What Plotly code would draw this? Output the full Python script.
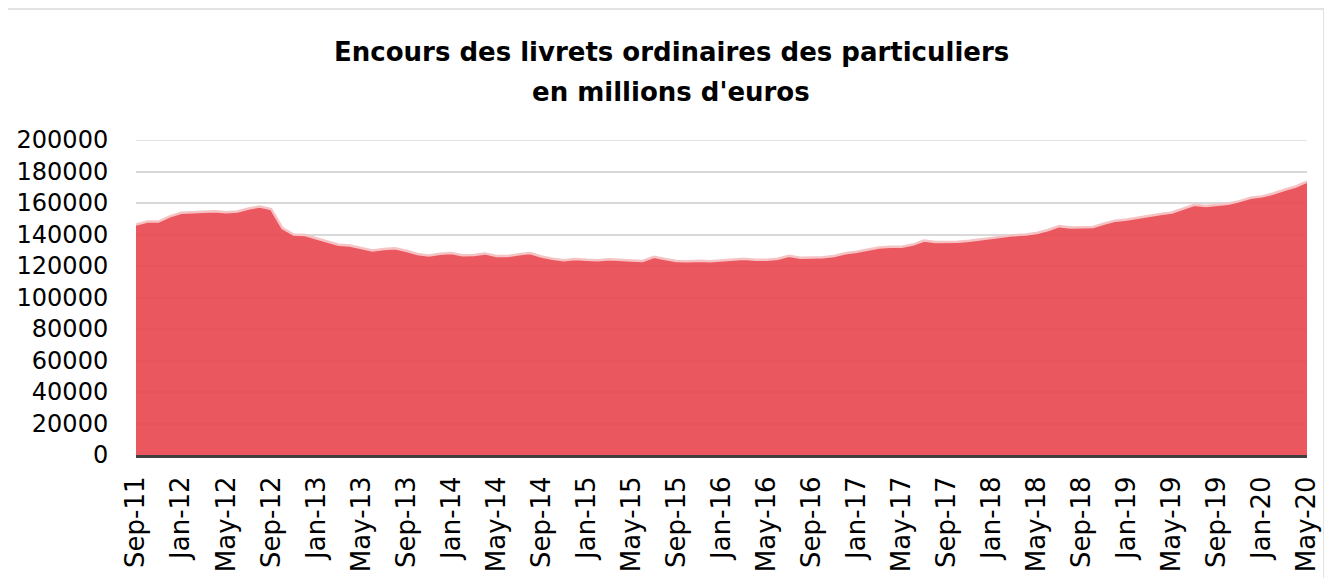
import pandas as pd
import plotly.graph_objects as go

# Monthly outstanding amounts (millions of euros), Sep-2011 .. May-2020
values = [
    146300, 148300, 148200, 151500,                                                  # 2011 Sep-Dec
    153800, 154000, 154500, 154700, 154200, 154600, 156500, 157800, 156200, 144000, 140000, 139700,  # 2012
    137600, 135300, 133500, 133000, 131200, 129800, 130800, 131300, 129700, 127600, 126600, 127800,  # 2013
    128300, 126900, 127000, 128000, 126400, 126300, 127400, 128200, 126000, 124600, 123700, 124400,  # 2014
    123900, 123700, 124300, 124100, 123500, 123200, 125800, 124400, 123200, 123000, 123400, 123000,  # 2015
    123500, 123900, 124600, 124000, 123900, 124600, 126500, 125300, 125300, 125600, 126300, 128100,  # 2016
    129100, 130300, 131800, 132200, 132300, 133600, 136200, 135300, 135200, 135400, 136100, 137000,  # 2017
    137700, 138500, 139600, 140000, 141000, 142900, 145300, 144400, 144400, 144800, 147000, 148800,  # 2018
    149500, 150800, 152000, 153000, 154000, 156300, 158900, 158100, 158700, 159500, 161200, 163300,  # 2019
    164200, 166000, 168400, 170500, 173500,                                          # 2020 Jan-May
]
months = list(pd.date_range("2011-09-01", periods=len(values), freq="MS").strftime("%b-%y"))
tick_labels = months[::4]
y_ticks = [0, 20000, 40000, 60000, 80000, 100000, 120000, 140000, 160000, 180000, 200000]

title_line1 = "Encours des livrets ordinaires des particuliers"
title_line2 = "en millions d'euros"

fig = go.Figure()
fig.add_trace(go.Scatter(
    x=months, y=values, mode="lines", fill="tozeroy",
    fillcolor="rgba(233,73,80,0.92)",
    line=dict(color="#f6c3c5", width=2.5),
    hoverinfo="x+y", showlegend=False,
))

OFF = 8  # page body margin
W, H = 1332 - OFF, 578 - OFF
# plot area in page pixels
PL, PR, PT, PB = 136, 1307, 140, 455
L, R, T, B = PL - OFF, W - (PR - OFF), PT - OFF, H - (PB - OFF)
pw, ph = PR - PL, PB - PT

def px_x(x):
    return (x - PL) / pw

def px_y(y):
    return (PB - y) / ph

fig.update_layout(
    width=W, height=H,
    margin=dict(l=L, r=R, t=T, b=B, pad=0, autoexpand=False),
    paper_bgcolor="white", plot_bgcolor="white",
    font=dict(family="DejaVu Sans", color="#000000"),
    xaxis=dict(
        type="category", range=[0, len(values) - 1], automargin=False,
        tickmode="array", tickvals=tick_labels, ticktext=tick_labels,
        tickangle=-90, tickfont=dict(size=26, family="DejaVu Sans", color="#000"),
        showgrid=False, showline=True, linecolor="#404040", linewidth=3,
        ticks="outside", ticklen=8, tickcolor="rgba(0,0,0,0)",
        zeroline=False,
    ),
    yaxis=dict(
        range=[0, 200000], tickmode="array", tickvals=y_ticks, automargin=False,
        ticktext=[str(v) for v in y_ticks],
        tickfont=dict(size=24, family="DejaVu Sans", color="#000"),
        showgrid=True, gridcolor="#d9d9d9", gridwidth=1.5,
        zeroline=False, showline=False,
        ticks="outside", ticklen=22, tickcolor="rgba(0,0,0,0)",
    ),
    annotations=[
        dict(text="<b>%s</b>" % title_line1, xref="paper", yref="paper",
             x=px_x(671), y=px_y(52), xanchor="center", yanchor="middle",
             showarrow=False, font=dict(size=26, family="DejaVu Sans", color="#000")),
        dict(text="<b>%s</b>" % title_line2, xref="paper", yref="paper",
             x=px_x(671), y=px_y(92), xanchor="center", yanchor="middle",
             showarrow=False, font=dict(size=26, family="DejaVu Sans", color="#000")),
    ],
    shapes=[
        dict(type="rect", xref="paper", yref="paper",
             x0=px_x(3), x1=px_x(1324), y0=px_y(600), y1=px_y(9),
             line=dict(color="#d9d9d9", width=1.5), fillcolor="rgba(0,0,0,0)", layer="below"),
        dict(type="line", xref="paper", yref="y", x0=0, x1=1, y0=200000, y1=200000,
             line=dict(color="#d9d9d9", width=1.5), layer="below"),
    ],
)

fig.write_html("out.html")
